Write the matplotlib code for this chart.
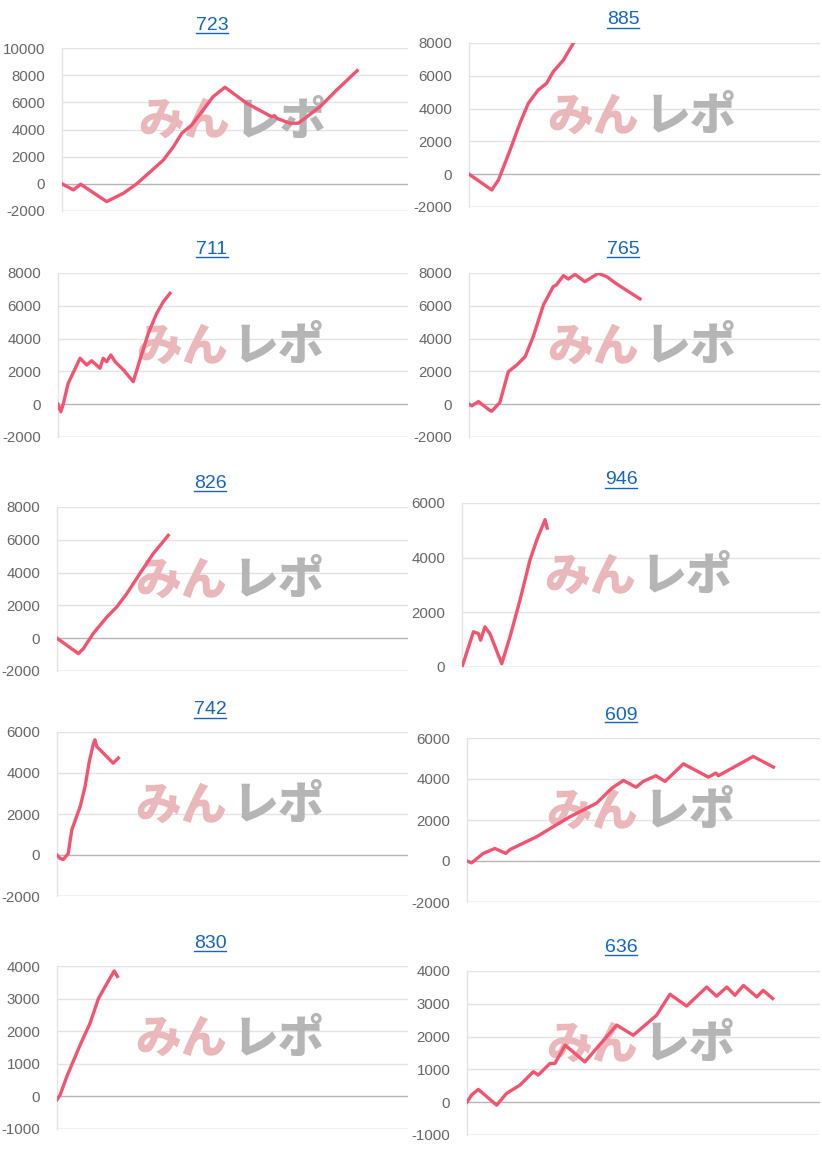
import matplotlib
matplotlib.use('Agg')
import matplotlib.pyplot as plt
from matplotlib.lines import Line2D

plt.rcParams['font.family'] = ['Liberation Sans', 'DejaVu Sans']

# ---------------- data (x = progress through the day, 0-100) ----------------
titles = ['723', '885', '711', '765', '826', '946', '742', '609', '830', '636']

x_723 = [0, 3.3, 5.4, 12.9, 17.7, 21.6, 29.3, 32.2, 34.6, 37.5, 43.7, 47.1, 53.4, 60.5, 61.5, 62.1, 65.9, 68.3, 74.6, 79.4, 85.3]
y_723 = [0, -450, -30, -1310, -700, 0, 1750, 2730, 3720, 4330, 6420, 7110, 5930, 4950, 5000, 4820, 4460, 4460, 5680, 6910, 8330]

x_885 = [0, 6.5, 8.4, 11.7, 14.5, 16.9, 19.7, 22.1, 24.0, 26.9, 29.7]
y_885 = [0, -960, -350, 1470, 3100, 4320, 5130, 5540, 6250, 6960, 7980]

x_711 = [0, 0.8, 1.5, 2.9, 6.3, 8.2, 9.6, 12.0, 12.9, 13.9, 15.1, 16.3, 18.7, 21.5, 23.4, 25.8, 28.2, 30.1, 32.0]
y_711 = [0, -460, 0, 1270, 2800, 2390, 2650, 2190, 2800, 2590, 3000, 2590, 2090, 1370, 2700, 4320, 5540, 6250, 6760]

x_765 = [0, 0.8, 2.7, 6.0, 6.5, 8.8, 11.2, 13.6, 16.0, 18.3, 21.2, 24.0, 24.9, 26.9, 28.3, 30.2, 33.0, 36.8, 39.2, 42.1, 48.7]
y_765 = [0, -100, 160, -390, -430, 110, 1980, 2390, 2900, 4120, 6050, 7170, 7270, 7840, 7630, 7920, 7470, 7980, 7780, 7330, 6420]

x_826 = [0, 6.1, 7.5, 10.3, 14.2, 17.0, 19.9, 23.6, 27.4, 31.7]
y_826 = [0, -940, -640, 280, 1290, 1900, 2720, 3940, 5150, 6270]

x_946 = [0, 3.2, 4.6, 5.2, 6.4, 7.8, 11.1, 13.4, 16.2, 19.0, 20.9, 23.2, 23.8]
y_946 = [0, 1290, 1220, 980, 1470, 1220, 120, 1100, 2450, 3920, 4650, 5390, 5080]

x_742 = [0, 0.9, 1.8, 3.2, 4.2, 6.6, 8.0, 9.2, 10.3, 10.8, 11.3, 16.0, 17.5]
y_742 = [0, -170, -220, 70, 1220, 2360, 3340, 4560, 5380, 5620, 5300, 4480, 4730]

x_609 = [0, 1.3, 4.6, 7.9, 11.0, 12.2, 19.7, 24.4, 29.2, 36.7, 38.6, 41.0, 44.3, 47.9, 49.9, 53.5, 56.1, 61.3, 68.4, 70.5, 71.2, 81.1, 86.8]
y_609 = [0, -90, 370, 610, 370, 560, 1180, 1670, 2160, 2820, 3140, 3550, 3930, 3600, 3880, 4160, 3880, 4740, 4090, 4290, 4160, 5100, 4580]

x_830 = [0, 0.9, 2.8, 6.6, 9.4, 11.8, 14.2, 16.3, 17.2]
y_830 = [-100, 50, 610, 1580, 2240, 3000, 3460, 3850, 3680]

x_636 = [0, 1.3, 3.2, 8.4, 11.2, 15.0, 18.8, 20.2, 23.5, 24.9, 27.8, 33.4, 42.4, 47.1, 53.7, 57.5, 62.2, 67.9, 70.7, 73.6, 75.9, 78.3, 82.1, 83.9, 86.6]
y_636 = [0, 220, 390, -90, 270, 520, 930, 830, 1180, 1180, 1740, 1230, 2350, 2040, 2650, 3290, 2930, 3510, 3230, 3510, 3260, 3560, 3210, 3410, 3160]

y_ticks_723 = [-2000, 0, 2000, 4000, 6000, 8000, 10000]
y_ticks_8k = [-2000, 0, 2000, 4000, 6000, 8000]
y_ticks_946 = [0, 2000, 4000, 6000]
y_ticks_6k = [-2000, 0, 2000, 4000, 6000]
y_ticks_4k = [-1000, 0, 1000, 2000, 3000, 4000]

series = [
    (x_723, y_723, y_ticks_723),
    (x_885, y_885, y_ticks_8k),
    (x_711, y_711, y_ticks_8k),
    (x_765, y_765, y_ticks_8k),
    (x_826, y_826, y_ticks_8k),
    (x_946, y_946, y_ticks_946),
    (x_742, y_742, y_ticks_6k),
    (x_609, y_609, y_ticks_6k),
    (x_830, y_830, y_ticks_4k),
    (x_636, y_636, y_ticks_4k),
]

# ---------------- layout (pixels: left, top, right, bottom) ----------------
W, H = 822, 1150
boxes = [
    (62, 48, 408, 211), (469, 43, 820, 207),
    (58, 273, 408, 437), (469, 273, 820, 437),
    (57, 507, 408, 671), (462, 503, 820, 667),
    (57, 732, 408, 896), (467, 738, 820, 902),
    (57, 966, 408, 1129), (467, 971, 820, 1135),
]
title_pos = [(212, 25), (623, 20), (212, 250), (623, 250), (210, 484),
             (621, 480), (210, 710), (621, 715), (210, 943), (621, 947)]

LINE = '#f2546f'
GRID = '#e3e3e3'
ZERO = '#b5b5b5'
TICK = '#666666'
LINK = '#1565c0'
WM_FONT = ['Noto Sans CJK JP', 'DejaVu Sans']

fig = plt.figure(figsize=(W / 100, H / 100), dpi=100)
fig.patch.set_facecolor('white')

title_artists = []
for (xs, ys, ticks), (l, t, r, b), title, (tx, ty) in zip(series, boxes, titles, title_pos):
    ax = fig.add_axes([l / W, 1 - b / H, (r - l) / W, (b - t) / H])
    ax.set_xlim(0, 100)
    ax.set_ylim(ticks[0], ticks[-1])
    ax.set_yticks(ticks)
    ax.set_yticklabels([str(v) for v in ticks])
    ax.set_xticks([])
    for s in ['top', 'right', 'bottom']:
        ax.spines[s].set_visible(False)
    ax.spines['left'].set_color(GRID)
    ax.spines['left'].set_linewidth(1.0)
    ax.tick_params(axis='y', length=0, pad=12, labelsize=10.8, labelcolor=TICK)
    for v in ticks:
        ax.axhline(v, color=ZERO if v == 0 else GRID, lw=1.0, zorder=0.5)
    if ticks[0] != 0:
        ax.axhline(ticks[0], color='#d5d5d5', lw=1.0, zorder=0.5)
    # watermark
    ax.text(0.485, 0.55, 'みん', transform=ax.transAxes, ha='right', va='center',
            fontsize=33, fontweight='black', color='#eab7ba',
            family=WM_FONT, zorder=1)
    ax.text(0.50, 0.55, 'レポ', transform=ax.transAxes, ha='left', va='center',
            fontsize=33, fontweight='black', color='#b5b5b5',
            family=WM_FONT, zorder=1)
    ax.plot(xs, ys, color=LINE, lw=2.4, solid_joinstyle='round', zorder=3)
    tt = fig.text(tx / W, 1 - ty / H, title, ha='center', va='center',
                  fontsize=14, color=LINK)
    title_artists.append(tt)

# underline the link-style titles
fig.canvas.draw()
renderer = fig.canvas.get_renderer()
inv = fig.transFigure.inverted()
for tt in title_artists:
    bb = tt.get_window_extent(renderer)
    (x0, y0) = inv.transform((bb.x0, bb.y0 + 1))
    (x1, _) = inv.transform((bb.x1, bb.y0 + 1))
    fig.add_artist(Line2D([x0, x1], [y0, y0], transform=fig.transFigure,
                          color=LINK, lw=1.0))

fig.savefig('out.png', dpi=100, facecolor='white')
